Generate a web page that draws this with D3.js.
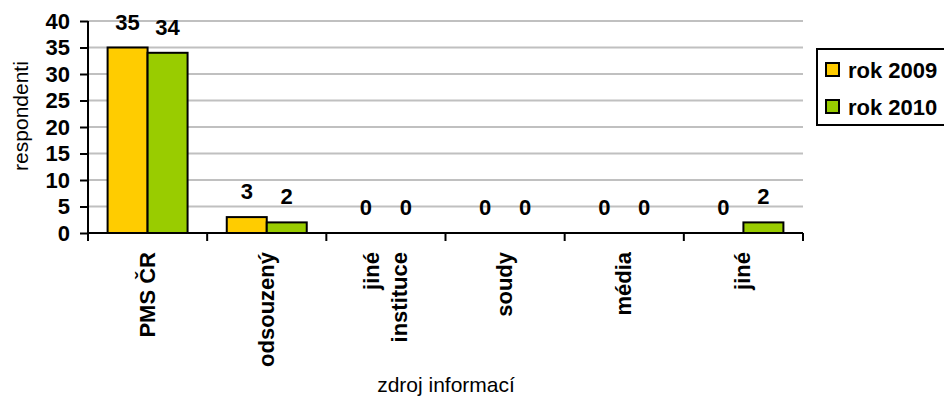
<!DOCTYPE html>
<html><head><meta charset="utf-8">
<script src="https://cdn.jsdelivr.net/npm/d3@7"></script>
<style>body{margin:0;background:#fff;}svg{display:block;font-family:"Liberation Sans",Arial,sans-serif;}</style>
</head><body>
<svg id="c" width="944" height="403"></svg>
<script>
const categories = ["PMS ČR", "odsouzený", "jiné instituce", "soudy", "média", "jiné"];
const categoryLines = [["PMS ČR"], ["odsouzený"], ["jiné", "instituce"], ["soudy"], ["média"], ["jiné"]];
const series = ["rok 2009", "rok 2010"];
const values2009 = [35, 3, 0, 0, 0, 0];
const values2010 = [34, 2, 0, 0, 0, 2];
const yTicks = [0, 5, 10, 15, 20, 25, 30, 35, 40];
const colors = ["#FFCC00", "#99CC00"];

const svg = d3.select("#c");
const pLeft = 88, pRight = 803, pTop = 21, pBottom = 233;
const FS = 22;
const x = d3.scaleBand().domain(categories).range([pLeft, pRight]);
const xs = d3.scaleBand().domain(series).range([0, x.bandwidth()]).paddingOuter(0.49).paddingInner(0);
const y = d3.scaleLinear().domain([0, 40]).range([pBottom, pTop]);

// grid
svg.append("g").selectAll("line").data(yTicks.filter(d => d > 0)).join("line")
  .attr("x1", pLeft).attr("x2", pRight).attr("y1", d => y(d)).attr("y2", d => y(d))
  .attr("stroke", "#c0c0c0").attr("stroke-width", 2);

const data = categories.map((c, i) => ({c, vals: [values2009[i], values2010[i]]}));
const g = svg.append("g");
data.forEach(d => {
  d.vals.forEach((v, j) => {
    const bx = x(d.c) + xs(series[j]);
    if (v > 0) {
      g.append("rect").attr("x", bx).attr("y", y(v)).attr("width", xs.bandwidth()).attr("height", y(0) - y(v))
        .attr("fill", colors[j]).attr("stroke", "#000").attr("stroke-width", 2);
    }
    g.append("text").attr("x", bx + xs.bandwidth() / 2).attr("y", y(v) - 18)
      .attr("text-anchor", "middle").attr("font-weight", "bold").attr("font-size", FS).text(v);
  });
});

// y axis
const yAxis = d3.axisLeft(y).tickValues(yTicks).tickSize(8).tickPadding(10);
const ya = svg.append("g").attr("transform", `translate(${pLeft},0)`).call(yAxis);
ya.select(".domain").attr("stroke-width", 2).attr("d", `M0,${pTop}V${pBottom}`);
ya.selectAll(".tick line").attr("stroke-width", 2);
ya.selectAll(".tick text").attr("font-size", FS).attr("font-weight", "bold").attr("fill", "#000")
  .attr("font-family", "Liberation Sans, Arial, sans-serif");

// x axis
const xa = svg.append("g").attr("transform", `translate(0,${pBottom})`);
xa.append("line").attr("x1", pLeft).attr("x2", pRight).attr("y1", 0).attr("y2", 0).attr("stroke", "#000").attr("stroke-width", 2);
const bounds = categories.map(c => x(c)).concat([pRight]);
xa.selectAll(".tk").data(bounds).join("line").attr("x1", d => d).attr("x2", d => d).attr("y1", 0).attr("y2", 8)
  .attr("stroke", "#000").attr("stroke-width", 2);
categories.forEach((c, i) => {
  const lines = categoryLines[i];
  const cx = x(c) + x.bandwidth() / 2;
  const lh = 28;
  lines.forEach((ln, k) => {
    const off = (k - (lines.length - 1) / 2) * lh;
    xa.append("text").attr("transform", `translate(${cx + off + 7},19) rotate(-90)`)
      .attr("text-anchor", "end").attr("font-weight", "bold").attr("font-size", FS).text(ln);
  });
});

// axis titles
svg.append("text").attr("transform", `translate(28,116) rotate(-90)`)
  .attr("text-anchor", "middle").attr("font-size", 21).text("respondenti");
svg.append("text").attr("x", 446).attr("y", 392).attr("text-anchor", "middle").attr("font-size", 21).text("zdroj informací");

// legend
const lg = svg.append("g");
lg.append("rect").attr("x", 817).attr("y", 49).attr("width", 140).attr("height", 76).attr("fill", "#fff").attr("stroke", "#000").attr("stroke-width", 2);
series.forEach((s, j) => {
  const ly = 63 + j * 37;
  lg.append("rect").attr("x", 826).attr("y", ly).attr("width", 13).attr("height", 13).attr("fill", colors[j]).attr("stroke", "#000").attr("stroke-width", 2);
  lg.append("text").attr("x", 848).attr("y", ly + 15).attr("font-weight", "bold").attr("font-size", FS).text(s);
});
</script>
</body></html>
